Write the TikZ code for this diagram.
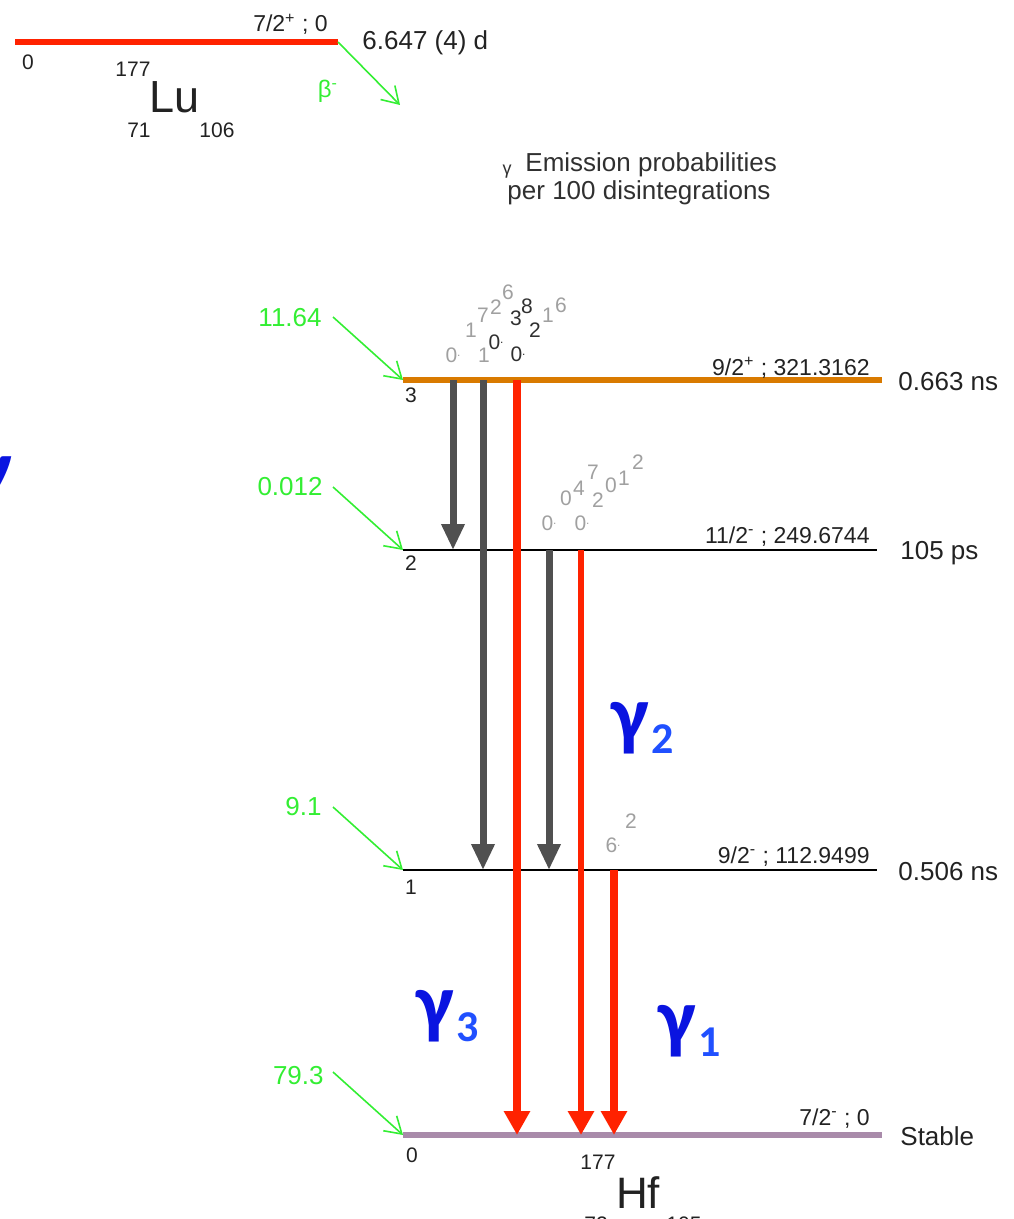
\documentclass[tikz,border=0pt]{standalone}
\usepackage{fontspec}
\setmainfont{Liberation Sans}
\newfontfamily\calibri{Carlito}
\usetikzlibrary{calc, arrows.meta}

\definecolor{naranja}{HTML}{D97A00}
\definecolor{lila}{HTML}{A98BAA}
\definecolor{rojo}{HTML}{FF2200}
\definecolor{grisosc}{HTML}{505050}
\definecolor{grisclaro}{HTML}{A0A0A0}
\definecolor{grisfuerte}{HTML}{303030}
\definecolor{verde}{HTML}{33EE33}
\definecolor{azul}{HTML}{0A14E0}
\definecolor{azulsub}{HTML}{2050FF}
\definecolor{texto}{HTML}{222222}

\newcommand{\pto}{\raisebox{0.5ex}{\fontsize{6}{6}\selectfont .}}

\begin{document}
\begin{tikzpicture}[x=0.5pt,y=-0.5pt,
    every node/.style={inner sep=0pt, text=texto},
    nivel/.style={font=\fontsize{11.5}{12}\selectfont, anchor=base east},
    vida/.style={font=\fontsize{13}{14}\selectfont, anchor=base west},
    indice/.style={font=\fontsize{10.5}{11}\selectfont},
    verdetxt/.style={text=verde, font=\fontsize{13}{14}\selectfont, anchor=east},
    alimenta/.style={verde, line width=0.8pt, -{Straight Barb[length=8pt,width=10pt]}},
    gris/.style={grisosc, line width=3.5pt, -{Triangle[length=13pt,width=11pt]}},
    roja/.style={rojo, line width=3.8pt, -{Triangle[length=12pt,width=12.5pt]}},
    gama/.style={text=azul, font=\calibri\bfseries\fontsize{40}{40}\selectfont, anchor=south west},
    gamasub/.style={text=azulsub, font=\calibri\bfseries\fontsize{22}{22}\selectfont, anchor=south west}]
    \useasboundingbox (0,0) rectangle (1013,1219);

    % Nivel padre del Lu
    \coordinate (Lui) at (15,42);
    \coordinate (Luf) at (338,42);
    \draw[rojo, line width=3pt] (Lui) -- (Luf);
    \node[nivel] (Luspin) at (328,32) {7/2\textsuperscript{+} ; 0};
    \node[vida] (Luvida) at (362,50) {6.647 (4) d};
    \node[indice] (Lucero) at (28,62) {0};
    \node[indice] (LuA) at (133,69) {177};
    \node[font=\fontsize{22.5}{23}\selectfont] (Lu) at (175,97) {Lu};
    \node[indice] (LuZ) at (139,130) {71};
    \node[indice] (LuN) at (217,130) {106};

    % Flecha beta
    \coordinate (bfin) at (400,105);
    \draw[alimenta] (Luf) -- (bfin);
    \node[text=verde, font=\fontsize{12}{12}\selectfont] (beta) at (328,91) {β\textsuperscript{-}};

    % Titulo
    \node[text=grisfuerte, font=\fontsize{9}{9}\selectfont, anchor=base east] (tgama) at (512,175) {γ};
    \node[text=grisfuerte, font=\fontsize{13}{14}\selectfont, anchor=base west] (t1) at (525,172) {Emission probabilities};
    \node[text=grisfuerte, font=\fontsize{13}{14}\selectfont, anchor=base] (t2) at (639,200) {per 100 disintegrations};

    % Niveles del Hf
    \coordinate (N3i) at (403,380); \coordinate (N3f) at (882,380);
    \coordinate (N2i) at (403,550); \coordinate (N2f) at (877,550);
    \coordinate (N1i) at (403,870); \coordinate (N1f) at (877,870);
    \coordinate (N0i) at (403,1135); \coordinate (N0f) at (882,1135);
    \draw[naranja, line width=3pt] (N3i) -- (N3f);
    \draw[black, line width=1pt] (N2i) -- (N2f);
    \draw[black, line width=1pt] (N1i) -- (N1f);
    \draw[lila, line width=3pt] (N0i) -- (N0f);

    % Etiquetas de los niveles
    \node[nivel] (s3) at (870,375) {9/2\textsuperscript{+} ; 321.3162};
    \node[nivel] (s2) at (870,543) {11/2\textsuperscript{-} ; 249.6744};
    \node[nivel] (s1) at (870,863) {9/2\textsuperscript{-} ; 112.9499};
    \node[nivel] (s0) at (870,1125) {7/2\textsuperscript{-} ; 0};
    \node[vida] (v3) at (898,390) {0.663 ns};
    \node[vida] (v2) at (900,559) {105 ps};
    \node[vida] (v1) at (898,880) {0.506 ns};
    \node[vida] (v0) at (900,1145) {Stable};
    \node[indice] (i3) at (411,395) {3};
    \node[indice] (i2) at (411,563) {2};
    \node[indice] (i1) at (411,887) {1};
    \node[indice] (i0) at (412,1155) {0};
    \node[indice] (HfA) at (598,1162) {177};
    \node[font=\fontsize{22}{23}\selectfont] (Hf) at (638,1193) {Hf};
    \node[indice] (HfZ) at (596,1224) {72};
    \node[indice] (HfN) at (684,1224) {105};

    % Alimentacion beta de cada nivel
    \coordinate (a3) at (333,317);
    \coordinate (a2) at (333,487);
    \coordinate (a1) at (333,807);
    \coordinate (a0) at (333,1072);
    \node[verdetxt] (p3) at (322,318) {11.64};
    \node[verdetxt] (p2) at (323,487) {0.012};
    \node[verdetxt] (p1) at (322,807) {9.1};
    \node[verdetxt] (p0) at (324,1076) {79.3};
    \draw[alimenta] (a3) -- (N3i);
    \draw[alimenta] (a2) -- (N2i);
    \draw[alimenta] (a1) -- (N1i);
    \draw[alimenta] (a0) -- (N0i);

    % Transiciones gamma
    \coordinate (x32) at (453,0);
    \coordinate (x31) at (483,0);
    \coordinate (x30) at (517,0);
    \coordinate (x21) at (549,0);
    \coordinate (x20) at (581,0);
    \coordinate (x10) at (614,0);
    \draw[gris] (x32 |- N3i) -- (x32 |- N2i);
    \draw[gris] (x31 |- N3i) -- (x31 |- N1i);
    \draw[roja] (x30 |- N3i) -- (x30 |- N0i);
    \draw[gris] (x21 |- N2i) -- (x21 |- N1i);
    \draw[roja, line width=3pt] (x20 |- N2i) -- (x20 |- N0i);
    \draw[roja] (x10 |- N1i) -- (x10 |- N0i);

    % Restos de las intensidades
    \foreach \px/\py/\t/\c [count=\k] in {
        453/355/0\pto/grisclaro, 471/330/1/grisclaro, 483/315/7/grisclaro,
        496/307/2/grisclaro, 508/292/6/grisclaro, 484/355/1/grisclaro,
        496/342/0\pto/grisfuerte, 516/318/3/grisfuerte, 527/306/8/grisfuerte,
        518/354/0\pto/grisfuerte, 535/330/2/grisfuerte, 548/315/1/grisclaro,
        561/305/6/grisclaro,
        549/523/0\pto/grisclaro, 582/523/0\pto/grisclaro, 566/498/0/grisclaro,
        579/488/4/grisclaro, 593/472/7/grisclaro, 598/500/2/grisclaro,
        611/485/0/grisclaro, 624/478/1/grisclaro, 638/462/2/grisclaro,
        613/845/6\pto/grisclaro, 631/821/2/grisclaro}
        \node[text=\c, font=\fontsize{10.5}{11}\selectfont] (f\k) at (\px,\py) {\t};

    % Etiquetas gamma
    \node[gama] (g2) at (611,754) {γ};
    \node[gamasub] (g2s) at ([xshift=1pt]g2.south east) {2};
    \node[gama] (g3) at (416,1042) {γ};
    \node[gamasub] (g3s) at ([xshift=1pt]g3.south east) {3};
    \node[gama] (g1) at (658,1057) {γ};
    \node[gamasub] (g1s) at ([xshift=1pt]g1.south east) {1};
    \node[gama, anchor=center] (gborde) at (-7,482) {γ};

\end{tikzpicture}
\end{document}
